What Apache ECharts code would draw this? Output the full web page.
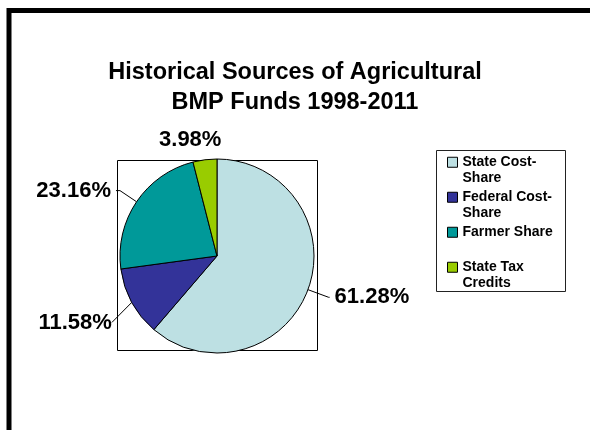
<!DOCTYPE html>
<html>
<head>
<meta charset="utf-8">
<script src="https://cdn.jsdelivr.net/npm/echarts@6/dist/echarts.min.js"></script>
<style>html,body{margin:0;padding:0;background:#fff}#c{width:590px;height:430px}</style>
</head>
<body>
<div id="c"></div>
<script>
// ---- data ----
const titleText = 'Historical Sources of Agricultural\nBMP Funds 1998-2011';
const categories = ['State Cost-Share', 'Federal Cost-Share', 'Farmer Share', 'State Tax Credits'];
const legendLabels = ['State Cost-\nShare', 'Federal Cost-\nShare', 'Farmer Share\n ', 'State Tax\nCredits'];
const values = [61.28, 11.58, 23.16, 3.98];

// ---- style ----
const colors = ['#BDE0E3', '#333399', '#009999', '#99CC00'];
const FONT = '"Liberation Sans", Arial, Helvetica, sans-serif';
const lineLen = [22, 17, 20, 20];
const lineLen2 = [1, 0, 4, 0];
const lineShow = [true, true, true, false];

const LH = 15.5;
// square icon aligned with the first text line of each two-line entry
const legendIcon = 'path://M0,0L0,0M0,2.75L10,2.75L10,12.75L0,12.75Z M10,31L10,31';

const chart = echarts.init(document.getElementById('c'), null, {renderer: 'canvas'});

const option = {
  animation: false,
  backgroundColor: '#fff',
  color: colors,
  title: {
    text: titleText,
    left: 'center',
    top: 58,
    padding: 0,
    textStyle: {fontFamily: FONT, fontWeight: 'bold', fontSize: 23.5, lineHeight: 30, color: '#000'}
  },
  legend: {
    data: categories,
    orient: 'vertical',
    left: 447,
    top: 154,
    padding: 0,
    itemGap: 3,
    itemWidth: 10,
    itemHeight: 2 * LH,
    icon: legendIcon,
    itemStyle: {borderColor: '#000', borderWidth: 1},
    formatter: (name) => legendLabels[categories.indexOf(name)],
    textStyle: {fontFamily: FONT, fontWeight: 'bold', fontSize: 14, color: '#000', lineHeight: LH}
  },
  graphic: [
    {type: 'rect', shape: {x: 9, y: 10.5, width: 700, height: 600}, style: {fill: 'none', stroke: '#000', lineWidth: 5}, silent: true},
    {type: 'rect', shape: {x: 117.5, y: 160.5, width: 200, height: 190}, style: {fill: 'none', stroke: '#000', lineWidth: 1}, silent: true, z: -1},
    {type: 'rect', shape: {x: 436.5, y: 150.5, width: 129, height: 141}, style: {fill: 'none', stroke: '#222', lineWidth: 1}, silent: true}
  ],
  series: [{
    type: 'pie',
    center: [217, 256],
    radius: 97,
    startAngle: 90,
    clockwise: true,
    avoidLabelOverlap: false,
    itemStyle: {borderColor: '#000', borderWidth: 1},
    emphasis: {disabled: true},
    label: {
      show: true,
      position: 'outside',
      formatter: (p) => p.value.toFixed(2) + '%',
      fontFamily: FONT, fontWeight: 'bold', fontSize: 22, color: '#000',
      distanceToLabelLine: 5
    },
    labelLine: {show: true, lineStyle: {color: '#000', width: 1}},
    labelLayout: (p) => {
      if (p.dataIndex === 1) return {y: p.labelRect.y + p.labelRect.height / 2 + 12};
      if (p.dataIndex === 3) return {dx: 24};
      return {};
    },
    data: categories.map((name, i) => ({
      name: name,
      value: values[i],
      labelLine: {show: lineShow[i], length: lineLen[i], length2: lineLen2[i]}
    }))
  }]
};
chart.setOption(option);
</script>
</body>
</html>
